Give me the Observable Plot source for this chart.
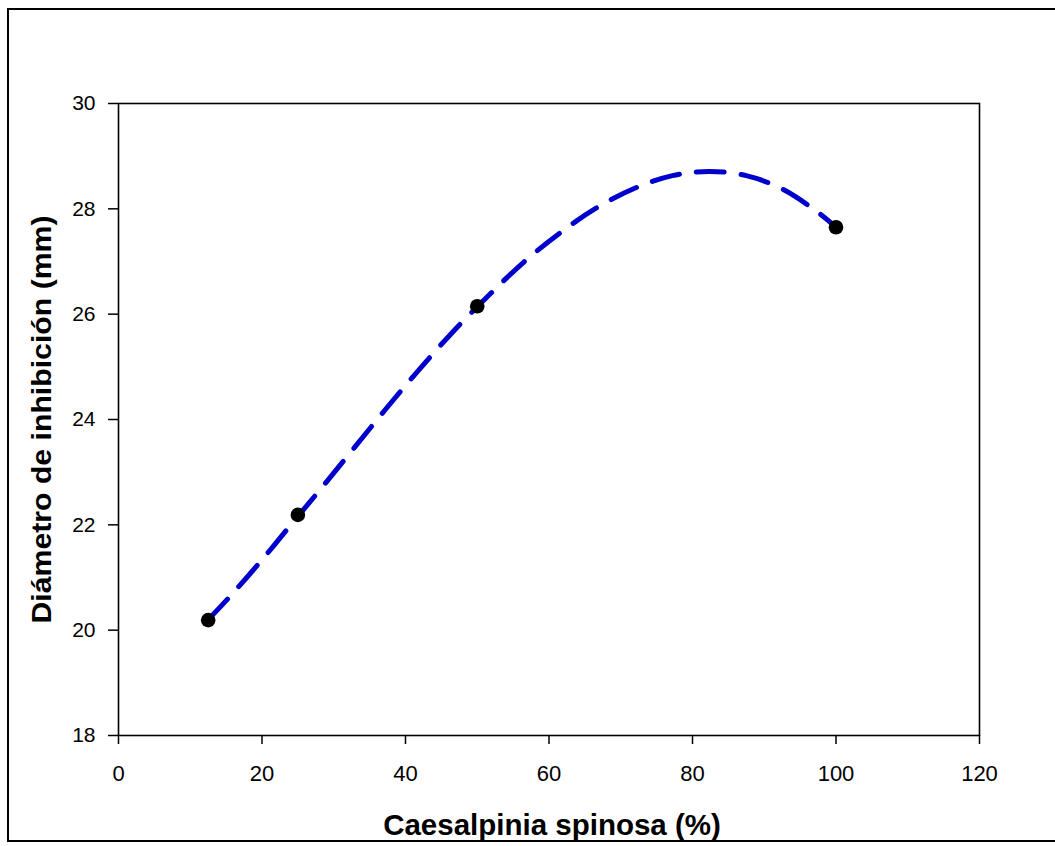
<!DOCTYPE html>
<html>
<head>
<meta charset="utf-8">
<script src="https://cdn.jsdelivr.net/npm/d3@7"></script>
<script src="https://cdn.jsdelivr.net/npm/@observablehq/plot@0.6"></script>
<style>
  html, body { margin: 0; padding: 0; background: #fff; overflow: hidden; }
  #wrap { position: relative; width: 1055px; height: 846px; overflow: hidden; }
  #border { position: absolute; left: 7px; top: 8px; width: 1100px; height: 834px; border: 2px solid #000; box-sizing: border-box; pointer-events: none; }
</style>
</head>
<body>
<div id="wrap"><div id="border"></div></div>
<script>
// Measured data points
const concentration = [12.5, 25, 50, 100];
const diameter = [20.19, 22.19, 26.15, 27.65];

// Fitted curve
const curveX = [12.5, 15.4, 19.9, 24.2, 28.6, 32.9, 37.2, 41.6, 46.3, 51.4, 56.5, 61.7, 66.9, 72.1, 77.2, 82.3, 87.5, 92.6, 97.8, 100];
const curveY = [20.2, 20.62, 21.32, 22.03, 22.75, 23.47, 24.19, 24.90, 25.62, 26.33, 26.99, 27.56, 28.04, 28.40, 28.63, 28.71, 28.63, 28.37, 27.90, 27.65];

// Ticks and titles
const xTicks = [0, 20, 40, 60, 80, 100, 120];
const yTicks = [18, 20, 22, 24, 26, 28, 30];
const xTitle = "Caesalpinia spinosa (%)";
const yTitle = "Diámetro de inhibición (mm)";

const points = concentration.map((c, i) => ({x: c, y: diameter[i]}));
const curve = curveX.map((c, i) => ({x: c, y: curveY[i]}));

const chart = Plot.plot({
  width: 1055,
  height: 846,
  marginLeft: 118,
  marginRight: 76,
  marginTop: 103,
  marginBottom: 111,
  style: {fontFamily: "'Liberation Sans', Arial, sans-serif", fontSize: "22px", color: "#000", background: "transparent"},
  x: {domain: [0, 120]},
  y: {domain: [18, 30]},
  marks: [
    Plot.frame({stroke: "#000", strokeWidth: 1.6}),
    Plot.axisX({ticks: xTicks, tickSize: 9, tickPadding: 21, tickFormat: d => String(d), label: null, strokeWidth: 1.5, fontSize: 22}),
    Plot.axisY({ticks: yTicks, tickSize: 10, tickPadding: 13, tickFormat: d => String(d), label: null, strokeWidth: 1.5, fontSize: 21}),
    Plot.line(curve, {x: "x", y: "y", stroke: "#0000CC", strokeWidth: 5, strokeDasharray: "28,17", curve: "catmull-rom"}),
    Plot.dot(points, {x: "x", y: "y", r: 7.3, fill: "#000", stroke: "none"}),
    Plot.text([xTitle], {text: d => d, frameAnchor: "bottom", textAnchor: "middle", lineAnchor: "middle", dy: 90, dx: 3, fontSize: 29.5, fontWeight: "bold", fill: "#000"}),
    Plot.text([yTitle], {text: d => d, frameAnchor: "left", textAnchor: "middle", lineAnchor: "middle", rotate: -90, dx: -76, fontSize: 27, fontWeight: "bold", fill: "#000"})
  ]
});

// stretch the y title along its length like the reference
d3.select(chart).selectAll("text").filter(function () { return this.textContent === yTitle; })
  .attr("textLength", 408).attr("lengthAdjust", "spacingAndGlyphs");

document.getElementById("wrap").prepend(chart);
</script>
</body>
</html>
